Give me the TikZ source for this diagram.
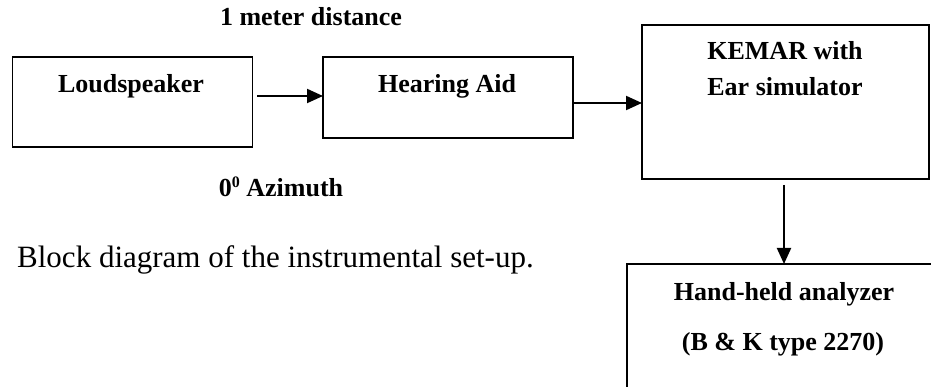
\documentclass[tikz,border=0pt]{standalone}
\usepackage{fontspec}
\setmainfont{Liberation Serif}
\usetikzlibrary{arrows.meta}
\begin{document}
\begin{tikzpicture}[x=1pt,y=-1pt,
  box/.style={draw, line width=1.8pt, inner sep=0pt, outer sep=0pt},
  lbl/.style={font=\fontsize{26}{30}\selectfont\bfseries, inner sep=0pt, anchor=base},
  captxt/.style={font=\fontsize{31}{36}\selectfont, inner sep=0pt, anchor=base west},
  arr/.style={line width=2pt, -{Triangle[length=16pt,width=14pt]}}]
\useasboundingbox (0,0) rectangle (931,387);
\clip (0,0) rectangle (931,387);
% boxes
\node[box, minimum width=240pt, minimum height=90pt] (ls) at (132.5,102) {};
\node[box, minimum width=250pt, minimum height=81pt] (ha) at (448,97.5) {};
\node[box, minimum width=287pt, minimum height=154pt] (km) at (785.5,102) {};
\node[box, minimum width=314pt, minimum height=236pt] (an) at (784,382) {};
% texts
\node[lbl] (t1) at (311,26) {1 meter distance};
\node[lbl] (t2) at (131,93) {Loudspeaker};
\node[lbl] (t3) at (447,93) {Hearing Aid};
\node[lbl] (t4) at (785,60) {KEMAR with};
\node[lbl] (t5) at (785,96) {Ear simulator};
\node[lbl] (t6) at (281,197) {0\raisebox{9pt}{\fontsize{16}{18}\selectfont 0} Azimuth};
\node[lbl] (t7) at (784,300) {Hand-held analyzer};
\node[lbl] (t8) at (783,350) {(B \& K type 2270)};
\node[captxt] (t9) at (17,268) {Block diagram of the instrumental set-up.};
% arrow end points
\coordinate (a1s) at (257,96);
\coordinate (a1e) at (ha.west |- a1s);
\coordinate (a2s) at (ha.east |- 0,103);
\coordinate (a2e) at (km.west |- a2s);
\coordinate (a3s) at (an.north |- 0,185);
% arrows
\draw[arr] (a1s) -- (a1e);
\draw[arr] (a2s) -- (a2e);
\draw[arr] (a3s) -- (an.north);
\end{tikzpicture}
\end{document}
